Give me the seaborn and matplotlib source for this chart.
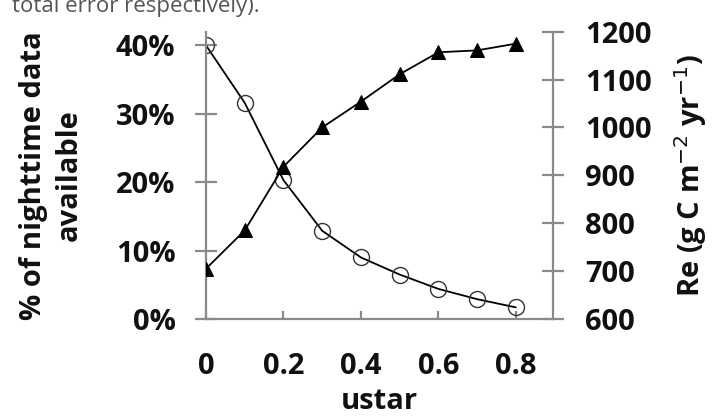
import matplotlib
matplotlib.use("Agg")
import matplotlib.pyplot as plt
import matplotlib.ticker as mticker
import seaborn as sns
import pandas as pd

ustar = [0.0, 0.1, 0.2, 0.3, 0.4, 0.5, 0.6, 0.7, 0.8]
pct_available = [40.0, 31.6, 20.3, 12.9, 9.0, 6.5, 4.4, 2.9, 1.7]
re_values = [705, 785, 918, 1000, 1054, 1111, 1157, 1161, 1175]

x_ticks = [0, 0.2, 0.4, 0.6, 0.8]
x_labels = ["0", "0.2", "0.4", "0.6", "0.8"]
left_ticks = [0, 10, 20, 30, 40]
right_ticks = [600, 700, 800, 900, 1000, 1100, 1200]

df = pd.DataFrame({"ustar": ustar, "pct": pct_available, "re": re_values})

sns.set_theme(style="white")
plt.rcParams["font.family"] = ["Open Sans", "DejaVu Sans"]

FS = 21
fig = plt.figure(figsize=(7.12, 4.17), dpi=100)
ax = fig.add_axes([206/712, 1 - 319/417, (553 - 206)/712, (319 - 31.7)/417])
ax2 = ax.twinx()

sns.lineplot(data=df, x="ustar", y="pct", ax=ax, color="black", linewidth=1.3,
             marker="o", markersize=11.5, markerfacecolor="none",
             markeredgecolor="#333333", markeredgewidth=1.0)
sns.lineplot(data=df, x="ustar", y="re", ax=ax2, color="black", linewidth=1.3,
             marker="^", markersize=10.5, markerfacecolor="black",
             markeredgecolor="black")

ax.set_xlim(0, 0.896)
ax.set_ylim(0, 42.0)
ax2.set_ylim(600, 1200)

ax.set_xticks(x_ticks)
ax.set_xticklabels(x_labels)
ax.set_yticks(left_ticks)
ax.yaxis.set_major_formatter(mticker.FuncFormatter(lambda v, p: f"{v:.0f}%"))
ax2.set_yticks(right_ticks)

spine_col = "#8a8a8a"
for a in (ax, ax2):
    for s in a.spines.values():
        s.set_visible(False)
ax.spines["left"].set_visible(True)
ax.spines["bottom"].set_visible(True)
ax2.spines["right"].set_visible(True)
for s in (ax.spines["left"], ax.spines["bottom"], ax2.spines["right"]):
    s.set_color(spine_col)
    s.set_linewidth(1.6)

ax.tick_params(axis="y", direction="inout", length=16, width=1.6, color=spine_col,
               labelsize=FS, pad=14, left=True)
ax.tick_params(axis="x", direction="in", length=6, width=1.6, color=spine_col,
               labelsize=FS, pad=24, bottom=True)
ax2.tick_params(axis="y", direction="inout", length=16, width=1.6, color=spine_col,
                labelsize=FS, pad=15, right=True)
for lab in ax.get_xticklabels() + ax.get_yticklabels() + ax2.get_yticklabels():
    lab.set_fontweight("bold")
    lab.set_color("#111111")

ax.set_xlabel("ustar", fontsize=FS, fontweight="bold", color="#111111", labelpad=4)
ax.set_ylabel("% of nighttime data\navailable", fontsize=FS, fontweight="bold",
              color="#111111", linespacing=1.3, labelpad=23)
ax2.set_ylabel("Re (g C m$^{-2}$ yr$^{-1}$)", fontsize=FS, fontweight="bold",
               color="#111111", labelpad=15)
ax.grid(False)
ax2.grid(False)

fig.text(12/712, 1 - 12/417, "total error respectively).", fontsize=16,
         color="#555555", va="baseline", ha="left")

fig.savefig("out.png", dpi=100)
